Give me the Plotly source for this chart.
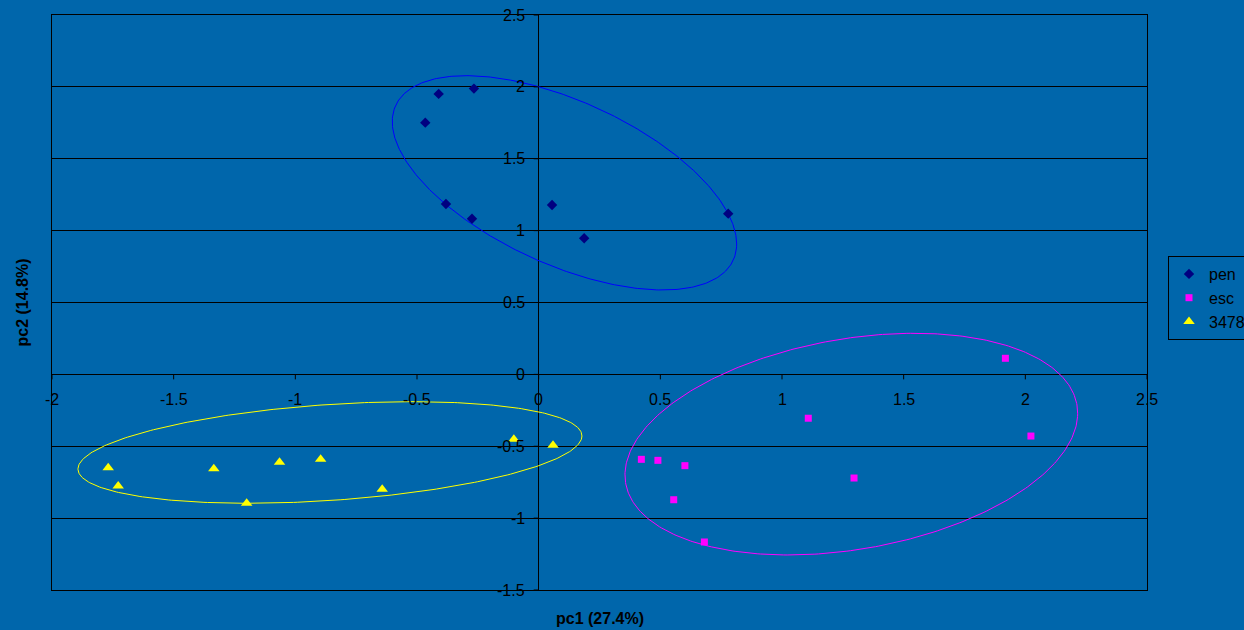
import numpy as np
import plotly.graph_objects as go

# ---- data ----
pen_x = [-0.466, -0.411, -0.266, -0.381, -0.274, 0.055, 0.187, 0.779]
pen_y = [1.751, 1.951, 1.988, 1.185, 1.083, 1.178, 0.947, 1.118]

esc_x = [1.918, 1.108, 2.023, 0.422, 0.490, 0.601, 1.296, 0.555, 0.681]
esc_y = [0.112, -0.305, -0.429, -0.591, -0.598, -0.635, -0.721, -0.872, -1.166]

g3478_x = [-1.769, -1.728, -1.335, -1.200, -1.065, -0.896, -0.643, -0.102, 0.059]
g3478_y = [-0.649, -0.776, -0.656, -0.897, -0.611, -0.591, -0.799, -0.452, -0.493]

# ellipse outlines: centre x, centre y, half-width, half-height, y-offset at leftmost point
ellipse_pen = [0.106, 1.3325, 0.7077, 0.7454, 0.4254]
ellipse_esc = [1.2849, -0.4852, 0.9302, 0.7711, -0.2146]
ellipse_3478 = [-0.8577, -0.5433, 1.0356, 0.3534, -0.1148]

x_ticks = [-2, -1.5, -1, -0.5, 0, 0.5, 1, 1.5, 2, 2.5]
y_ticks = [-1.5, -1, -0.5, 0, 0.5, 1, 1.5, 2, 2.5]

x_title = "pc1 (27.4%)"
y_title = "pc2 (14.8%)"

BG = "#0066AB"
FONT = "Arial, Liberation Sans, sans-serif"


def ellipse_path(p):
    cx, cy, rx, ry, dl = p
    t = np.linspace(0, 2 * np.pi, 400)
    ex = cx + rx * np.cos(t)
    ey = cy - dl * np.cos(t) + np.sqrt(ry ** 2 - dl ** 2) * np.sin(t)
    return ex, ey


fig = go.Figure()

for p, col in [(ellipse_pen, "#0000FF"), (ellipse_esc, "#FF00FF"), (ellipse_3478, "#FFFF00")]:
    ex, ey = ellipse_path(p)
    fig.add_trace(go.Scatter(x=ex, y=ey, mode="lines", line=dict(color=col, width=1),
                             showlegend=False, hoverinfo="skip"))

fig.add_trace(go.Scatter(x=pen_x, y=pen_y, mode="markers", name="pen",
                         marker=dict(symbol="diamond", size=8, color="#000080")))
fig.add_trace(go.Scatter(x=esc_x, y=esc_y, mode="markers", name="esc",
                         marker=dict(symbol="square", size=7, color="#FF00FF")))
fig.add_trace(go.Scatter(x=g3478_x, y=g3478_y, mode="markers", name="3478",
                         marker=dict(symbol="triangle-up", size=10, color="#FFFF00")))

TICKFONT = dict(family=FONT, size=16, color="black")
annotations = []
shapes = []
for v in x_ticks:
    annotations.append(dict(x=v, y=0, xref="x", yref="y", text=f"{v:g}", showarrow=False,
                            yshift=-25, font=TICKFONT))
    shapes.append(dict(type="line", xref="x", yref="y", x0=v, x1=v, ysizemode="pixel",
                       yanchor=0, y0=0, y1=-5, line=dict(color="black", width=1)))
for v in y_ticks:
    annotations.append(dict(x=0, y=v, xref="x", yref="y", text=f"{v:g}", showarrow=False,
                            xanchor="right", xshift=-12, font=TICKFONT))
    shapes.append(dict(type="line", xref="x", yref="y", y0=v, y1=v, xsizemode="pixel",
                       xanchor=0, x0=0, x1=-5, line=dict(color="black", width=1)))

TITLEFONT = dict(family=FONT, size=16, color="black")
annotations.append(dict(x=0.5, y=0, xref="paper", yref="paper", text=f"<b>{x_title}</b>",
                        showarrow=False, yanchor="middle", yshift=-28, font=TITLEFONT))
annotations.append(dict(x=0, y=0.5, xref="paper", yref="paper", text=f"<b>{y_title}</b>",
                        showarrow=False, textangle=-90, xanchor="center", xshift=-30,
                        font=TITLEFONT))

fig.update_layout(
    width=1244, height=630,
    margin=dict(l=52, r=97, t=15, b=40, autoexpand=False),
    paper_bgcolor=BG, plot_bgcolor=BG,
    font=dict(family=FONT, size=13, color="black"),
    annotations=annotations,
    shapes=shapes,
    showlegend=True,
    legend=dict(xref="container", yref="container", x=1168 / 1244, y=1 - 256 / 630,
                xanchor="left", yanchor="top",
                bordercolor="black", borderwidth=1, bgcolor=BG,
                font=dict(family=FONT, size=16, color="black"),
                itemwidth=30),
    xaxis=dict(range=[-2, 2.5], showgrid=False, showticklabels=False, ticks="",
               zeroline=True, zerolinecolor="black", zerolinewidth=1,
               showline=True, linecolor="black", linewidth=1, mirror=True),
    yaxis=dict(range=[-1.5, 2.5], dtick=0.5, tick0=0, showgrid=True, gridcolor="black",
               gridwidth=1, showticklabels=False, ticks="",
               zeroline=True, zerolinecolor="black", zerolinewidth=1,
               showline=True, linecolor="black", linewidth=1, mirror=True),
)

fig.write_html("out.html", config={"displayModeBar": False},
               post_script="document.body.style.margin='0';document.body.style.overflow='hidden';")
